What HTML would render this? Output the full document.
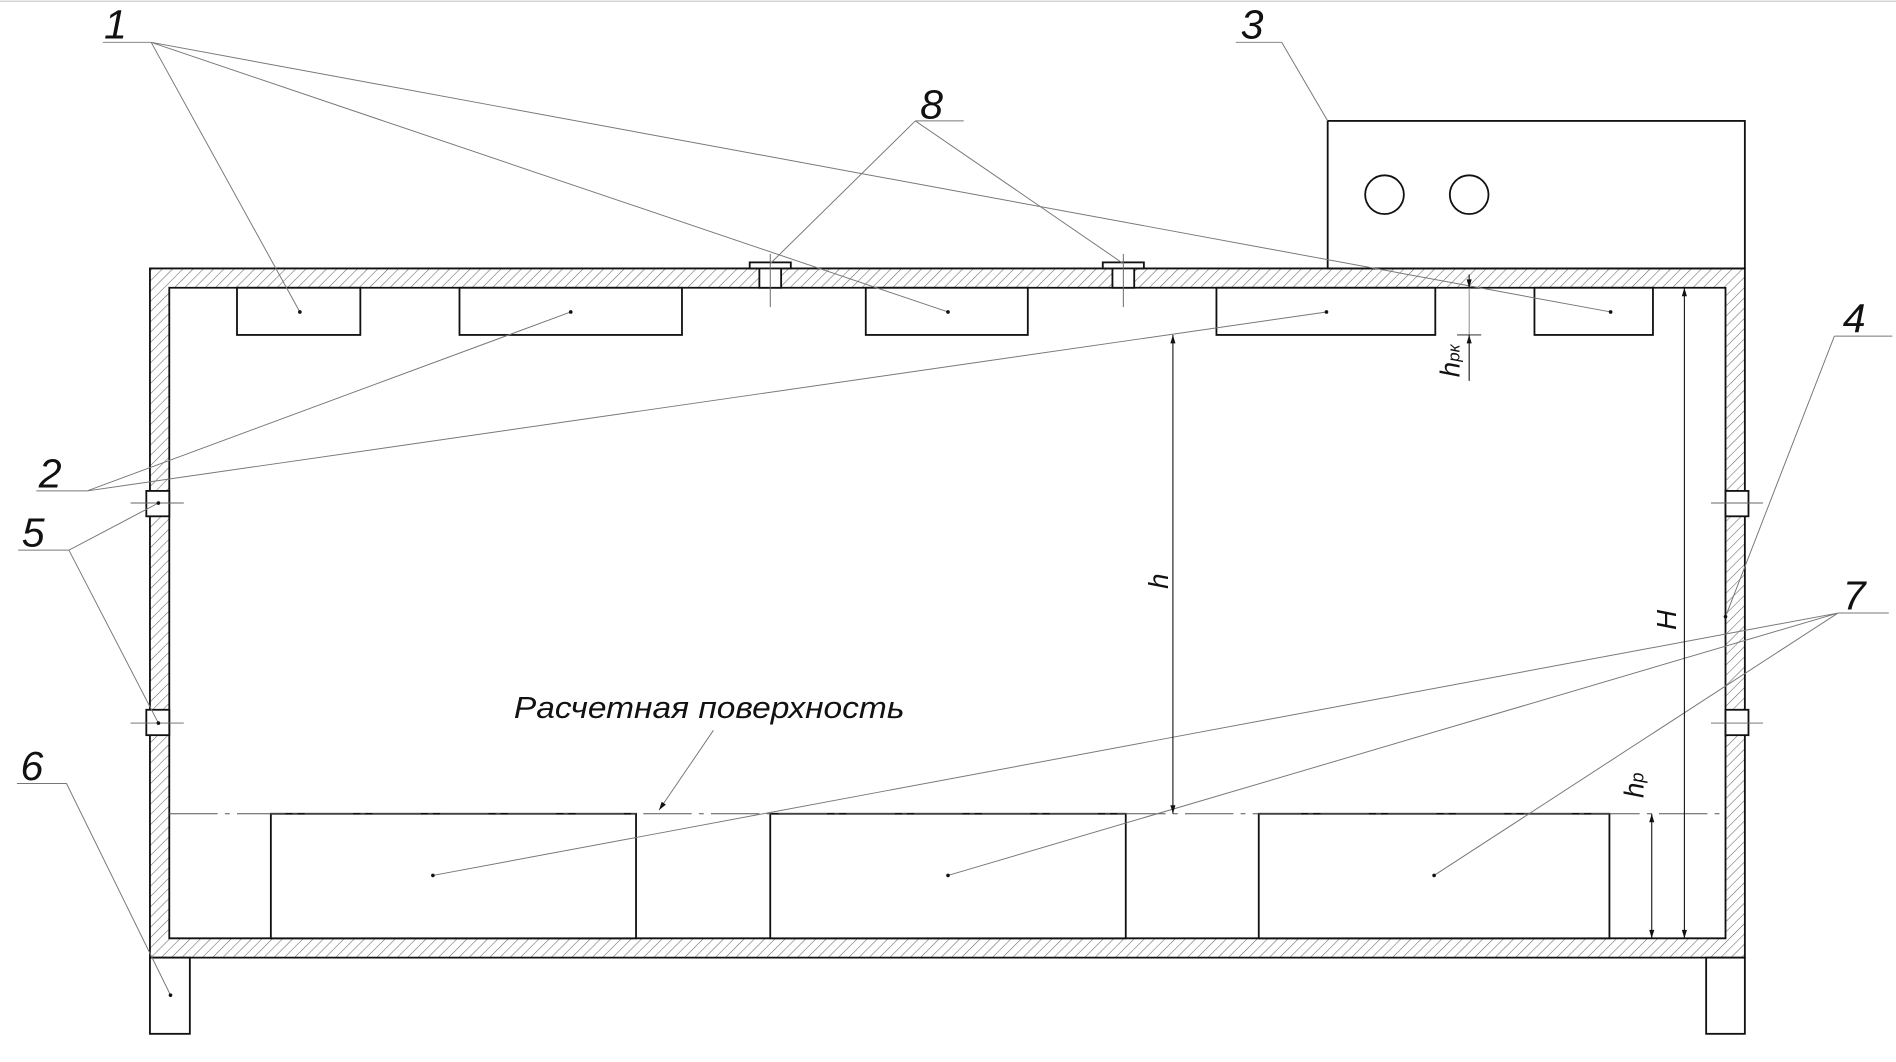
<!DOCTYPE html>
<html><head><meta charset="utf-8"><style>html,body{margin:0;padding:0;background:#fff}svg{display:block}</style></head>
<body>
<svg width="1896" height="1062" viewBox="0 0 1568 878.3" preserveAspectRatio="none" xmlns="http://www.w3.org/2000/svg" font-family="Liberation Sans, sans-serif">
<defs>
<pattern id="h" width="6" height="6" patternUnits="userSpaceOnUse" patternTransform="rotate(45)">
<line x1="0" y1="0" x2="0" y2="6" stroke="#666" stroke-width="0.9"/>
</pattern>
<marker id="a" viewBox="0 0 10 10" refX="10" refY="5" markerWidth="10" markerHeight="7" orient="auto-start-reverse" markerUnits="userSpaceOnUse">
<path d="M0,2 L10,5 L0,8 z" fill="#111"/>
</marker>
</defs>
<line x1="0" y1="1" x2="1568" y2="1" stroke="#ccc" stroke-width="1"/>
<path d="M124,222 H1443 V792 H124 Z M140,238 V776 H1427 V238 Z" fill="url(#h)" fill-rule="evenodd" stroke="#111" stroke-width="1.5"/>
<rect x="1098" y="100" width="345" height="122" fill="none" stroke="#111" stroke-width="1.5"/>
<circle cx="1145" cy="161" r="16" fill="none" stroke="#111" stroke-width="1.5"/>
<circle cx="1215" cy="161" r="16" fill="none" stroke="#111" stroke-width="1.5"/>
<g fill="#fff" stroke="#111" stroke-width="1.5">
<rect x="196" y="238" width="102" height="39"/>
<rect x="716" y="238" width="134" height="39"/>
<rect x="1269" y="238" width="98" height="39"/>
<rect x="380" y="238" width="184" height="39"/>
<rect x="1006" y="238" width="181" height="39"/>
<rect x="224" y="673" width="302" height="103"/>
<rect x="637" y="673" width="294" height="103"/>
<rect x="1041" y="673" width="290" height="103"/>
<rect x="124" y="792" width="33" height="63"/>
<rect x="1411" y="792" width="32" height="63"/>
<rect x="628" y="220" width="18" height="18"/>
<rect x="620" y="217" width="34" height="5"/>
<rect x="920" y="220" width="18" height="18"/>
<rect x="912" y="217" width="34" height="5"/>
<rect x="121" y="406" width="19" height="21"/>
<rect x="121" y="587" width="19" height="21"/>
<rect x="1427" y="406" width="19" height="21"/>
<rect x="1427" y="587" width="19" height="21"/>
</g>
<g stroke="#666" stroke-width="0.8">
<line x1="637" y1="210" x2="637" y2="254"/><line x1="929" y1="210" x2="929" y2="254"/>
<line x1="108" y1="416" x2="152" y2="416"/><line x1="108" y1="598" x2="152" y2="598"/>
<line x1="1415" y1="416" x2="1458" y2="416"/><line x1="1415" y1="598" x2="1458" y2="598"/>
</g>
<line x1="140" y1="673" x2="1427" y2="673" stroke="#555" stroke-width="0.8" stroke-dasharray="40,6,4,6"/>
<g stroke="#777" stroke-width="0.8" fill="none">
<path d="M85,35 H125 L248,258 M125,35 L784,258 M125,35 L1332,258"/>
<path d="M30,406 H72 L472,258 M72,406 L1097,258"/>
<path d="M1022,35 H1060 L1098,100"/>
<path d="M757,100 H797 M757,100 L637,218 M757,100 L929,218"/>
<path d="M15,455 H57 L131,416 M57,455 L131,598"/>
<path d="M1517,278 H1565 M1517,278 L1427,510"/>
<path d="M1520,507 H1562 M1520,507 L358,724 M1520,507 L784,724 M1520,507 L1186,724"/>
<path d="M14,648 H55 L141,823"/>
<path d="M590,604 L545,670" marker-end="url(#a)"/>
</g>
<g fill="#111">
<circle cx="248" cy="258" r="1.5"/><circle cx="784" cy="258" r="1.5"/><circle cx="1332" cy="258" r="1.5"/>
<circle cx="472" cy="258" r="1.5"/><circle cx="1097" cy="258" r="1.5"/>
<circle cx="131" cy="416" r="1.5"/><circle cx="131" cy="598" r="1.5"/>
<circle cx="358" cy="724" r="1.5"/><circle cx="784" cy="724" r="1.5"/><circle cx="1186" cy="724" r="1.5"/>
<circle cx="141" cy="823" r="1.5"/><circle cx="1427" cy="510" r="1.5"/>
</g>
<g stroke="#111" stroke-width="0.9">
<line x1="970" y1="277" x2="970" y2="673" marker-start="url(#a)" marker-end="url(#a)"/>
<line x1="1393" y1="238" x2="1393" y2="776" marker-start="url(#a)" marker-end="url(#a)"/>
<line x1="1366" y1="673" x2="1366" y2="776" marker-start="url(#a)" marker-end="url(#a)"/>
<line x1="1215" y1="238" x2="1215" y2="277" stroke="#777" stroke-width="0.7" />
<line x1="1215" y1="227" x2="1215" y2="238" marker-end="url(#a)"/>
<line x1="1215" y1="315" x2="1215" y2="277" marker-end="url(#a)"/>
<line x1="1205" y1="277" x2="1225" y2="277" stroke-width="0.7"/>
</g>
<g font-style="italic" fill="#111">
<text x="86" y="32" font-size="34">1</text>
<text x="1026" y="32" font-size="34">3</text>
<text x="761" y="98" font-size="34">8</text>
<text x="32" y="403" font-size="34">2</text>
<text x="18" y="452" font-size="34">5</text>
<text x="1524" y="275" font-size="34">4</text>
<text x="1524" y="504" font-size="34">7</text>
<text x="17" y="645" font-size="34">6</text>
<text x="425" y="594" font-size="25" textLength="323" lengthAdjust="spacingAndGlyphs">Расчетная поверхность</text>
<text transform="translate(966,487) rotate(-90)" font-size="23">h</text>
<text transform="translate(1386,521) rotate(-90)" font-size="23">H</text>
<text transform="translate(1359,660) rotate(-90)" font-size="23">h<tspan font-size="15">p</tspan></text>
<text transform="translate(1207,312) rotate(-90)" font-size="23">h<tspan font-size="14">рк</tspan></text>
</g>
</svg>
</body></html>
